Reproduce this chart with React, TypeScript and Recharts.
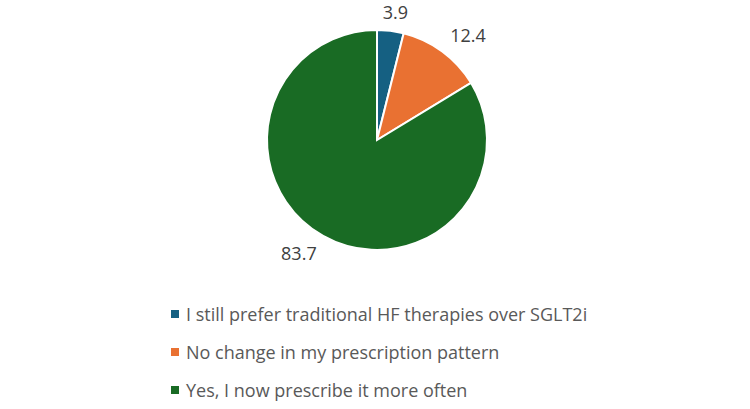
import { Cell, Pie, PieChart } from "recharts";

const categories = [
  "I still prefer traditional HF therapies over SGLT2i",
  "No change in my prescription pattern",
  "Yes, I now prescribe it more often",
];
const values = [3.9, 12.4, 83.7];
const colors = ["#156082", "#e97132", "#196b24"];

const data = categories.map((name, i) => ({ name, value: values[i] }));

const RAD = Math.PI / 180;

// outside-end label: the label box sits just beyond the rim, pushed out toward its corner
function renderLabel(props: any) {
  const { cx, cy, midAngle, outerRadius, value } = props;
  const dx = Math.cos(-midAngle * RAD);
  const dy = Math.sin(-midAngle * RAD);
  const r = outerRadius + 11;
  const halfW = String(value).length * 4.8;
  const halfH = 8;
  const px = cx + r * dx;
  const py = cy + r * dy;
  const kx = Math.sign(dx) * Math.min(1, Math.abs(dx) * 2);
  const ky = Math.sign(dy) * Math.min(1, Math.abs(dy) * 2);
  return (
    <text
      x={px + kx * halfW}
      y={py + ky * halfH}
      textAnchor="middle"
      dominantBaseline="central"
      fill="#404040"
      fontSize={18}
      fontFamily="'Open Sans', sans-serif"
    >
      {value}
    </text>
  );
}

export default function App() {
  return (
    <div style={{ position: "absolute", left: 0, top: 0, width: 750, height: 409, background: "#fff" }}>
      <PieChart width={750} height={409} margin={{ top: 0, right: 0, bottom: 0, left: 0 }}>
        <Pie
          data={data}
          dataKey="value"
          cx={377}
          cy={140}
          outerRadius={110}
          startAngle={90}
          endAngle={-270}
          stroke="#ffffff"
          strokeWidth={2}
          label={renderLabel}
          labelLine={false}
          isAnimationActive={false}
        >
          {data.map((d, i) => (
            <Cell key={d.name} fill={colors[i]} />
          ))}
        </Pie>
      </PieChart>
      <div
        style={{
          position: "absolute",
          left: 171,
          top: 295,
          fontFamily: "'Open Sans', sans-serif",
          fontSize: 18,
          color: "#595959",
        }}
      >
        {categories.map((c, i) => (
          <div key={c} style={{ display: "flex", alignItems: "center", height: 38, whiteSpace: "nowrap" }}>
            <span style={{ width: 8, height: 8, background: colors[i], marginRight: 7, display: "inline-block" }} />
            {c}
          </div>
        ))}
      </div>
    </div>
  );
}
